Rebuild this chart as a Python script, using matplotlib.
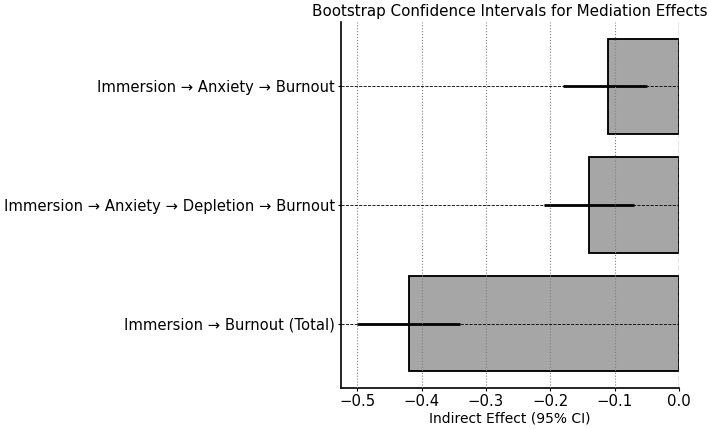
import matplotlib
matplotlib.use('Agg')
import matplotlib.pyplot as plt
import numpy as np

# mediation paths (bottom to top)
paths = ['Immersion → Burnout (Total)',
         'Immersion → Anxiety → Depletion → Burnout',
         'Immersion → Anxiety → Burnout']
effects = [-0.42, -0.14, -0.11]
ci_low = [-0.50, -0.21, -0.18]
ci_high = [-0.34, -0.07, -0.05]

effects = np.array(effects)
err = [effects - np.array(ci_low), np.array(ci_high) - effects]
y = np.arange(len(paths))

fig = plt.figure(figsize=(7.09, 4.29), dpi=100)
ax = fig.add_axes([0.481, 0.0956, 0.477, 0.853])

ax.barh(y, effects, height=0.8, color='grey', alpha=0.7, edgecolor='black', linewidth=1.2)
ax.barh(y, effects, height=0.8, color='none', edgecolor='black', linewidth=1.2)
ax.errorbar(effects, y, xerr=err, fmt='none', ecolor='black', elinewidth=2, capsize=0)
ax.axvline(0, color='grey', linestyle='--', linewidth=1)

ax.set_yticks(y)
ax.set_yticklabels(paths, fontsize=10.6)
ax.tick_params(axis='both', length=2.5, pad=2)
ax.tick_params(axis='x', labelsize=10.7, pad=1.5)
ax.set_xlim(-0.525, 0.0)
ax.set_xticks([-0.5, -0.4, -0.3, -0.2, -0.1, 0.0])
ax.xaxis.grid(True, linestyle=':', color='grey', linewidth=0.8)
ax.yaxis.grid(True, linestyle='--', color='black', linewidth=0.6)
ax.set_axisbelow(False)
ax.spines['top'].set_visible(False)
ax.spines['right'].set_visible(False)
ax.spines['left'].set_linewidth(1.2)
ax.spines['bottom'].set_linewidth(1.2)

ax.set_xlabel('Indirect Effect (95% CI)', fontsize=10, labelpad=2)
ax.set_title('Bootstrap Confidence Intervals for Mediation Effects', fontsize=10.9, pad=4)

fig.savefig('out.png', dpi=100)
